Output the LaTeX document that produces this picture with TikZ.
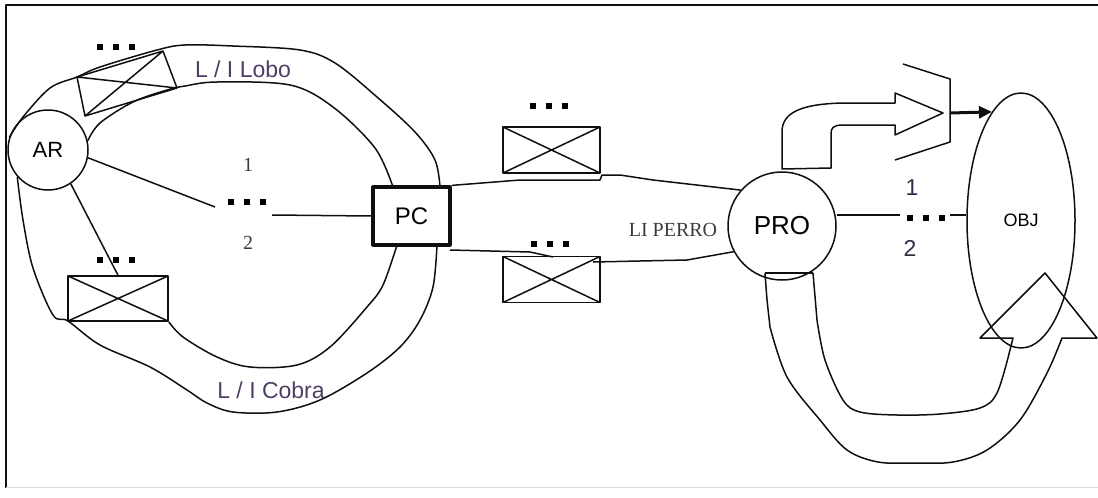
\documentclass[tikz,border=0pt]{standalone}
\usepackage{fontspec}
\setmainfont{Liberation Sans}
\newfontfamily\seriffont{Liberation Serif}
\usetikzlibrary{arrows.meta,shapes.geometric}
\definecolor{labelcol}{RGB}{80,60,100}
\definecolor{inkcol}{RGB}{15,15,15}
\definecolor{graytext}{RGB}{60,60,60}
\tikzset{
  dotrow/.pic={
    \fill (-19,-3) rectangle (-13,3);
    \fill (-3,-3) rectangle (3,3);
    \fill (13,-3) rectangle (19,3);
  },
  xbox/.style={draw, inner sep=0pt, minimum width=97pt, minimum height=46pt,
    path picture={\draw (path picture bounding box.north west) -- (path picture bounding box.south east)
      (path picture bounding box.north east) -- (path picture bounding box.south west);}},
  band/.style={smooth, tension=0.55},
  lobo/.style={font=\fontsize{23}{23}\selectfont, text=labelcol, inner sep=0pt},
  numser/.style={font=\seriffont\fontsize{20}{20}\selectfont, text=graytext, inner sep=0pt},
  numsans/.style={font=\fontsize{23}{23}\selectfont, text=labelcol!70!black, inner sep=0pt}
}
\begin{document}
\begin{tikzpicture}[x=1pt,y=-1pt,line width=1.5pt,line join=round,draw=inkcol]
\useasboundingbox (0,0) rectangle (1098,498);
% frame
\draw[line width=2pt] (6,488) -- (6,5) -- (1098,5);
\draw[gray!30,line width=0.8pt] (6,487) -- (1098,487);

% main nodes
\node[circle,draw,minimum size=80pt,inner sep=0pt,font=\fontsize{22}{22}\selectfont] (AR) at (48,150) {AR};
\node[draw,line width=3.2pt,minimum width=77pt,minimum height=58pt,inner sep=0pt,font=\fontsize{24}{24}\selectfont] (PC) at (411.5,216) {PC};
\node[circle,draw,minimum size=108pt,inner sep=0pt,font=\fontsize{26}{26}\selectfont] (PRO) at (782,226) {PRO};
\node[ellipse,draw,minimum width=108pt,minimum height=255pt,inner sep=0pt,font=\fontsize{18}{18}\selectfont] (OBJ) at (1021,220.5) {OBJ};

% crossed boxes
\node[xbox,minimum width=100pt,minimum height=45pt] (BL) at (118,298.5) {};
\node[xbox] (TM) at (551.5,150) {};
\node[xbox] (BM) at (551.5,279.5) {};

% tilted crossed box (top left)
\coordinate (A) at (77,77);
\coordinate (B) at (163,51);
\coordinate (C) at (177,88);
\coordinate (D) at (85,116);
\draw (A) -- (B) -- (C) -- (D) -- cycle (A) -- (C) (B) -- (D);

% dots
\pic at (116,47) {dotrow};
\pic at (116,260) {dotrow};
\pic at (247,202) {dotrow};
\pic at (549,105.5) {dotrow};
\pic at (550,243.5) {dotrow};
\pic at (926,217.5) {dotrow};

% coordinates on PC
\coordinate (pcA) at (440,187);
\coordinate (pcB) at (393,187);
\coordinate (pcC) at (437,245);
\coordinate (pcD) at (397,245);
\coordinate (pcE) at (450,250);
\coordinate (m1) at (215,207);
\coordinate (m2) at (272,215);

% bands around Lobo
\draw plot[band] coordinates {(AR.162) (23,117) (50,88) (77,77) (100,67) (157,50) (185,45) (233,46) (300,50) (335,63) (377,97) (415,132) (435,160) (pcA)};
\draw plot[band] coordinates {(AR.13) (100,123) (133,102) (167,90) (185,86) (217,82) (290,85) (333,107) (375,148) (pcB)};
% bands around Cobra
\draw plot[band] coordinates {(AR.-139) (23,220) (33,268) (53,315) (68,321) (100,345) (150,367) (187,390) (207,403) (233,412) (277,412) (320,400) (367,373) (400,347) (420,320) (433,287) (pcC)};
\draw plot[band] coordinates {(BL.south east) (183,337) (217,357) (250,367) (297,365) (330,347) (367,307) (383,285) (pcD)};

% connectors around AR
\draw (AR.-11) -- (m1);
\draw (m2) -- (PC.west);
\draw (AR.-56) -- (BL.north);

% PC to PRO
\draw (PC.north east) -- (520,180) -- (600,180) -- (602,175) -- (620,175) -- (653,180) -- (PRO.139);
\draw (pcE) -- (530,252) -- (553,257);
\draw (593,262) -- (687,260) -- (PRO.-152);

% PRO to OBJ
\coordinate (r1) at (900,215);
\coordinate (r2) at (950,215);
\draw (PRO.east |- r1) -- (r1);
\draw (r2) -- (OBJ.west |- r2);

% upper block arrow
\draw (782,169) -- (782,132) .. controls (782,113) and (800,104) .. (843,103) -- (895,103) -- (895,93) -- (943,113) -- (895,135) -- (895,125) -- (843,125) .. controls (833,125) and (831,128) .. (831,134) -- (831,168) -- cycle;
% Y shape and thick arrow
\coordinate (y0) at (950,113);
\draw (903,64) -- (950,79) -- (950,142) -- (895,160);
\draw[line width=3pt,-{Triangle[length=13pt,width=12pt]}] (y0) -- (OBJ.105);

% lower U arrow
\draw (765,273) -- (813,273);
\draw (765,273) -- (767,300) -- plot[band] coordinates {(770,327) (787,377) (820,420) (847,450) (878,462) (915,463) (953,462) (987,450) (1020,420) (1047,373) (1062,338)}
  -- (1097,338) -- (1045,273) -- (980,338) -- (1013,338)
  -- plot[band] coordinates {(1010,350) (997,393) (980,408) (940,414) (897,415) (860,412) (843,400) (825,360) (817,320)} -- (813,273);

% labels
\node[lobo] (tLobo) at (243,69) {L / I Lobo};
\node[lobo] (tCobra) at (271,390) {L / I Cobra};
\node[numser] (n1) at (248,165) {1};
\node[numser] (n2) at (248,243) {2};
\node[font=\seriffont\fontsize{20}{20}\selectfont,text=graytext,inner sep=0pt] (tPerro) at (673,230) {LI PERRO};
\node[numsans] (r1t) at (912,188) {1};
\node[numsans] (r2t) at (910,248) {2};
\end{tikzpicture}
\end{document}
